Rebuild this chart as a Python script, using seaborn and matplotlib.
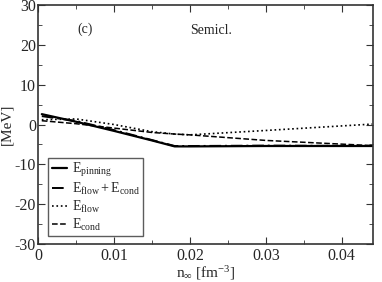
import numpy as np
import pandas as pd
import seaborn as sns
import matplotlib
matplotlib.use('Agg')
import matplotlib.pyplot as plt
from matplotlib.ticker import MultipleLocator

# --- Data ---
n_inf = [0.0005, 0.005, 0.01, 0.015, 0.018, 0.02, 0.03, 0.044]
e_pinning = [2.6, 0.7, -1.6, -4.0, -5.5, -5.5, -5.4, -5.4]
e_flow_cond = [2.1, 0.9, -1.4, -3.9, -5.4, -5.4, -5.3, -5.4]
e_flow = [1.2, 1.4, 0.0, -1.8, -2.4, -2.6, -1.5, 0.1]
e_cond = [0.95, 0.2, -0.9, -2.0, -2.4, -2.6, -4.0, -5.3]

x_ticks = [0, 0.01, 0.02, 0.03, 0.04]
x_tick_labels = ['0', '0.01', '0.02', '0.03', '0.04']
y_ticks = [-30, -20, -10, 0, 10, 20, 30]

labels = [r'$\mathrm{E}_{\mathrm{pinning}}$',
          r'$\mathrm{E}_{\mathrm{flow}} + \mathrm{E}_{\mathrm{cond}}$',
          r'$\mathrm{E}_{\mathrm{flow}}$',
          r'$\mathrm{E}_{\mathrm{cond}}$']

sns.set_style('ticks')
plt.rcParams['font.family'] = ['Liberation Serif', 'DejaVu Serif']
plt.rcParams['mathtext.fontset'] = 'custom'
plt.rcParams['mathtext.rm'] = 'Liberation Serif'
plt.rcParams['mathtext.it'] = 'Liberation Serif:italic'
plt.rcParams['axes.unicode_minus'] = False

fig = plt.figure(figsize=(3.82, 2.82), dpi=100)
ax = fig.add_axes([0.0995, 0.135, 0.8765, 0.847])

styles = [('-', 1.6), ((0, (6, 2, 1, 2)), 1.4), (':', 1.2), ('--', 1.1)]
series = [e_pinning, e_flow_cond, e_flow, e_cond]
for vals, lab, (ls, lw) in zip(series, labels, styles):
    df = pd.DataFrame({'n': n_inf, 'E': vals})
    sns.lineplot(data=df, x='n', y='E', ax=ax, color='black',
                 linestyle=ls, linewidth=lw, label=lab)

ax.set_xlim(0, 0.0441)
ax.set_ylim(-30, 30)
ax.set_xticks(x_ticks)
ax.set_xticklabels(x_tick_labels)
ax.set_yticks(y_ticks)
ax.xaxis.set_minor_locator(MultipleLocator(0.005))
ax.yaxis.set_minor_locator(MultipleLocator(5))
ax.tick_params(which='both', direction='in', top=True, right=True,
               labelsize=11.5, color='#333333')
ax.tick_params(axis='y', pad=1.5)
ax.tick_params(axis='x', pad=3)
ax.tick_params(which='major', length=5)
ax.tick_params(which='minor', length=3)
for sp in ax.spines.values():
    sp.set_linewidth(1.2)
    sp.set_color('#333333')

ax.set_xlabel(r'$\mathrm{n}_{\infty}$ [fm$^{-3}$]', fontsize=11)
ax.set_ylabel('[MeV]', fontsize=11)
ax.xaxis.set_label_coords(0.5, -0.085)
ax.yaxis.set_label_coords(-0.075, 0.5)

ax.text(0.0062, 24, '(c)', fontsize=10, ha='center', va='center')
ax.text(0.0228, 23.7, 'Semicl.', fontsize=10, ha='center', va='center')

leg = ax.legend(loc='lower left', bbox_to_anchor=(0.03, 0.033), fontsize=10,
                frameon=True, fancybox=False, handlelength=1.1,
                handletextpad=0.35, borderpad=0.25, labelspacing=0.12,
                borderaxespad=0.0)
leg.get_frame().set_edgecolor('#333333')
leg.get_frame().set_linewidth(1.0)

fig.savefig('out.png', dpi=100)
